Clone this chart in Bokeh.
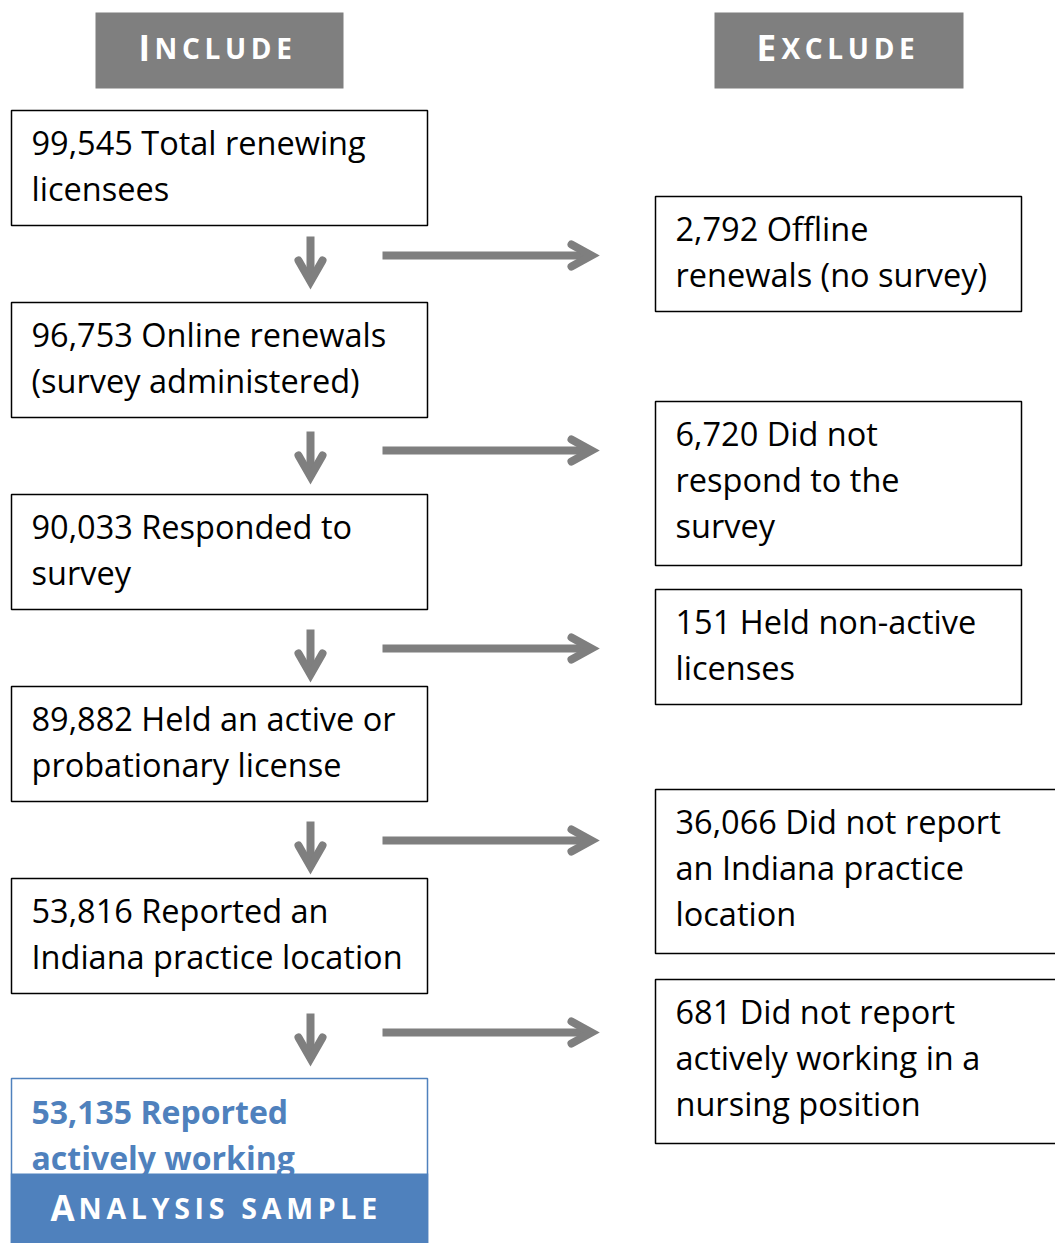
from bokeh.plotting import figure
from bokeh.models import Range1d
from bokeh.embed import file_html
from bokeh.resources import INLINE
from bokeh.core.properties import value

# ---- data (text content of the flow chart) ----
headers = ["Include", "Exclude"]
include_labels = [
    "99,545 Total renewing\nlicensees",
    "96,753 Online renewals\n(survey administered)",
    "90,033 Responded to\nsurvey",
    "89,882 Held an active or\nprobationary license",
    "53,816 Reported an\nIndiana practice location",
]
final_label = "53,135 Reported\nactively working"
footer = "Analysis sample"
exclude_labels = [
    "2,792 Offline\nrenewals (no survey)",
    "6,720 Did not\nrespond to the\nsurvey",
    "151 Held non-active\nlicenses",
    "36,066 Did not report\nan Indiana practice\nlocation",
    "681 Did not report\nactively working in a\nnursing position",
]

# ---- layout ----
GREY = "#7f7f7f"
BLUE = "#4f81bd"
FONT = value("Open Sans")
FS = "32.5px"
LINE_H = 46
FIRST_BASE = 32
HDR_BASE = 47

W, H = 1055, 1243
p = figure(width=W, height=H, output_backend="svg", toolbar_location=None,
           x_range=Range1d(0, W), y_range=Range1d(H, 0),
           min_border=0, outline_line_color=None, background_fill_color="white")
p.axis.visible = False
p.grid.visible = False

def small_caps(word, x_big, x_rest, base, big_size, small_size, sep):
    first = word[0].upper()
    rest = sep.join(list(word[1:].upper()))
    p.text(x=[x_big], y=[base], text=[first], text_font=FONT, text_font_style="bold",
           text_font_size=big_size, text_color="white", text_baseline="alphabetic")
    p.text(x=[x_rest], y=[base], text=[rest], text_font=FONT, text_font_style="bold",
           text_font_size=small_size, text_color="white", text_baseline="alphabetic")

# header boxes
p.quad(left=[95, 714], right=[343, 963], top=[12, 12], bottom=[88, 88],
       fill_color=GREY, line_color=None)
small_caps(headers[0], 138, 154, HDR_BASE, "35px", "28px", "\u2006")
small_caps(headers[1], 756, 781, HDR_BASE, "35px", "28px", "\u2006")

def draw_lines(label, x, top, color="black", bold=False, size=FS):
    lines = label.split("\n")
    ys = [top + FIRST_BASE + LINE_H * i for i in range(len(lines))]
    p.text(x=[x] * len(lines), y=ys, text=lines, text_font=FONT, text_font_size=size,
           text_color=color, text_baseline="alphabetic",
           text_font_style="bold" if bold else "normal")

# left (include) boxes
LX0, LX1 = 11, 427
for i, lab in enumerate(include_labels):
    top = 110 + 192 * i
    p.quad(left=[LX0], right=[LX1], top=[top], bottom=[top + 115],
           fill_color="white", line_color="black", line_width=1.5)
    draw_lines(lab, 31, top)

# final analysis sample box
p.quad(left=[LX0], right=[LX1], top=[1078], bottom=[1260],
       fill_color="white", line_color=BLUE, line_width=1.5)
draw_lines(final_label, 31, 1079, color=BLUE, bold=True, size="32px")
p.quad(left=[LX0 - 0.75], right=[LX1 + 0.75], top=[1173], bottom=[1260],
       fill_color=BLUE, line_color=None)
small_caps(footer, 50, 78, 1207, "35px", "28.5px", "\u2009")

# right (exclude) boxes
right_tops = [196, 401, 589, 789, 979]
right_rights = [1021, 1021, 1021, 1080, 1080]
for lab, top, rr in zip(exclude_labels, right_tops, right_rights):
    n = lab.count("\n") + 1
    h = 115 if n == 2 else 164
    p.quad(left=[655], right=[rr], top=[top], bottom=[top + h],
           fill_color="white", line_color="black", line_width=1.5)
    draw_lines(lab, 675, top)

# arrows
arrow_y = [255, 450, 648, 840, 1032]
DX = 310
for y in arrow_y:
    # right arrow
    p.line(x=[382, 588], y=[y, y], line_color=GREY, line_width=8, line_cap="butt")
    p.line(x=[571, 591, 571], y=[y - 11, y, y + 11], line_color=GREY, line_width=8,
           line_cap="round", line_join="miter")
    # down arrow
    tip = y + 34
    p.line(x=[DX, DX], y=[y - 19, tip - 12], line_color=GREY, line_width=8, line_cap="butt")
    p.line(x=[DX - 12, DX, DX + 12], y=[tip - 29, tip - 8, tip - 29], line_color=GREY,
           line_width=8, line_cap="round", line_join="miter")

open("out.html", "w").write(file_html(p, INLINE))
